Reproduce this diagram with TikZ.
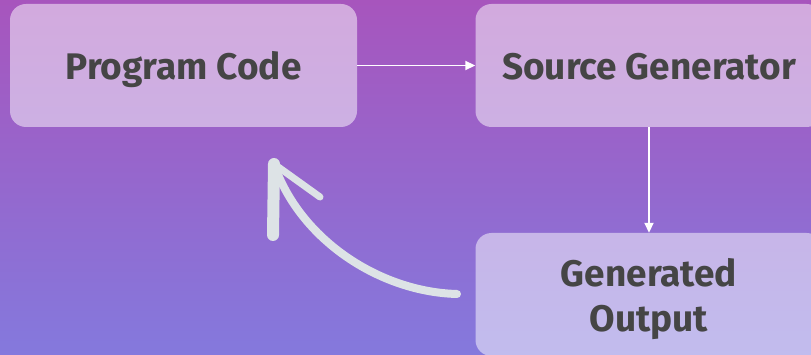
\documentclass[tikz,border=0pt]{standalone}
\usepackage{fontspec}
\setmainfont{Fira Sans}
\usetikzlibrary{arrows.meta}
\definecolor{bgtop}{HTML}{A755BD}
\definecolor{bgbottom}{HTML}{8479DD}
\definecolor{labelgray}{HTML}{454545}
\definecolor{chalk}{HTML}{DDE3E6}
\tikzset{
  box/.style={rounded corners=16pt, fill=white, fill opacity=0.5, text opacity=1,
    minimum width=347pt, minimum height=123pt, text=labelgray, align=center,
    text depth=0pt, font=\bfseries\fontsize{37}{45}\selectfont},
  oneline/.style={text height=28pt},
  flow/.style={white, line width=1.8pt, -{Triangle[length=10pt,width=9pt]}},
}

\begin{document}
\begin{tikzpicture}[x=1pt,y=-1pt]
  \useasboundingbox (0,0) rectangle (811,355);
  \clip (0,0) rectangle (811,355);
  \shade[top color=bgtop, bottom color=bgbottom] (0,0) rectangle (811,355);
  \node[box,oneline] (code) at (183.5,65.5) {Program Code};
  \node[box,oneline] (gen) at (649,65.5) {Source Generator};
  \node[box] (out) at (649,294.5) {Generated\\Output};
  \draw[flow] (code) -- (gen);
  \draw[flow] (gen) -- (out);
  \coordinate (tail) at (457,294);
  \coordinate (tip) at (274,164);
  \draw[chalk, line width=8pt, line cap=round] (tail) .. controls (380,292) and (300,240) .. (tip);
  \draw[chalk, line width=12pt, line cap=round] (tip) -- (273,235);
  \draw[chalk, line width=7pt, line cap=round] (tip) -- (320,197);
\end{tikzpicture}
\end{document}
